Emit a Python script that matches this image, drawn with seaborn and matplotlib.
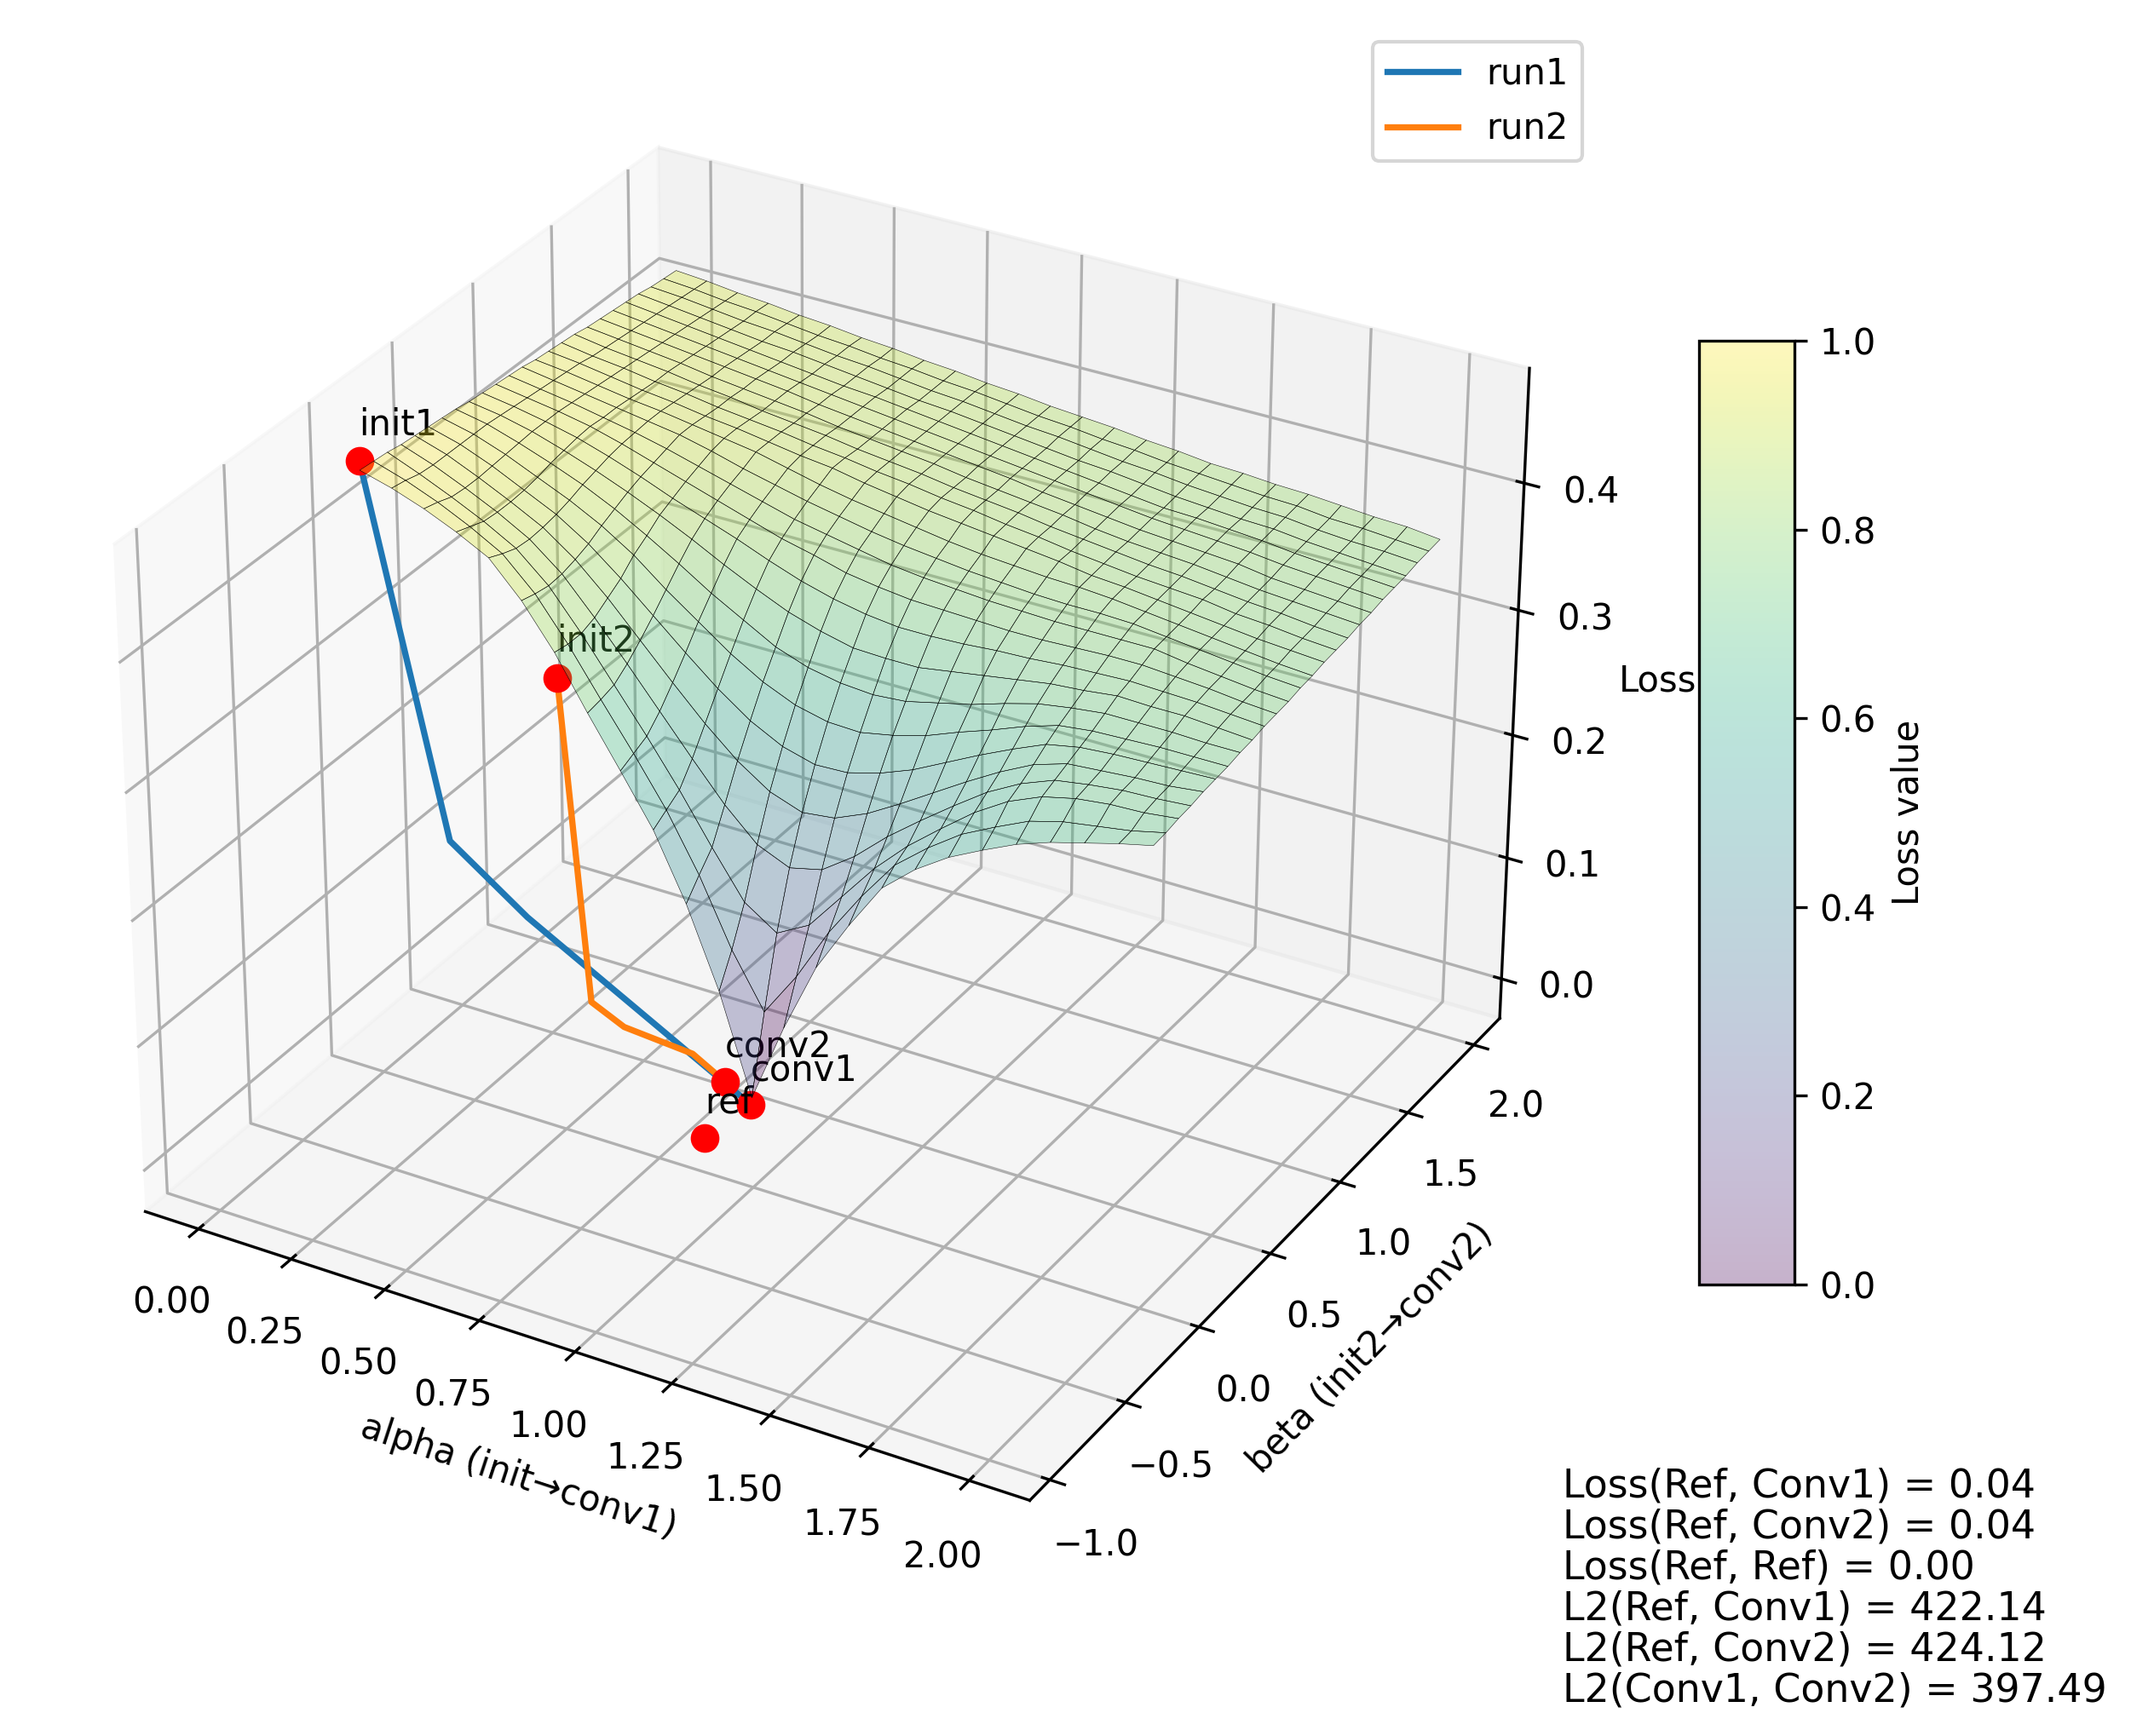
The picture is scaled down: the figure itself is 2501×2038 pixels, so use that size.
import numpy as np
import matplotlib
matplotlib.use("Agg")
import matplotlib.pyplot as plt
from matplotlib.cm import ScalarMappable
import seaborn as sns

alpha_grid = np.linspace(-0.015, 2.01, 25)
beta_grid = np.linspace(0.0, 2.0, 25)

loss_rows = [
[.447,.440,.431,.420,.407,.381,.348,.308,.270,.231,.180,.118,.040,.104,.160,.201,.238,.260,.277,.290,.302,.311,.318,.325,.331],
[.446,.438,.428,.416,.402,.378,.346,.310,.275,.238,.194,.142,.100,.136,.179,.215,.247,.268,.286,.299,.311,.318,.322,.326,.332],
[.445,.435,.424,.412,.398,.376,.346,.313,.280,.245,.207,.171,.154,.168,.198,.228,.253,.274,.294,.310,.321,.327,.330,.331,.334],
[.443,.434,.423,.411,.397,.377,.350,.321,.291,.261,.232,.208,.197,.203,.221,.244,.264,.283,.301,.315,.325,.329,.332,.333,.335],
[.442,.434,.423,.411,.398,.380,.357,.331,.305,.280,.258,.241,.232,.235,.246,.261,.277,.293,.308,.321,.329,.331,.333,.334,.337],
[.441,.434,.424,.412,.400,.384,.364,.342,.320,.299,.281,.268,.261,.262,.269,.279,.292,.305,.317,.328,.333,.335,.336,.337,.338],
[.440,.434,.425,.414,.403,.390,.374,.354,.336,.318,.303,.292,.286,.285,.290,.297,.307,.316,.326,.334,.337,.338,.339,.339,.339],
[.439,.434,.426,.417,.407,.395,.381,.366,.350,.336,.322,.313,.308,.306,.308,.314,.320,.328,.335,.339,.342,.342,.342,.341,.341],
[.437,.433,.427,.419,.410,.400,.389,.377,.364,.352,.341,.333,.327,.326,.326,.330,.334,.338,.342,.344,.347,.346,.346,.344,.342],
[.436,.432,.427,.421,.413,.404,.394,.385,.376,.366,.357,.350,.345,.342,.342,.343,.345,.346,.348,.349,.350,.349,.348,.346,.344],
[.435,.431,.427,.422,.415,.407,.399,.391,.383,.375,.369,.362,.358,.355,.354,.353,.352,.352,.353,.354,.354,.352,.350,.347,.345],
[.434,.430,.426,.421,.416,.410,.403,.396,.389,.382,.377,.372,.367,.364,.362,.360,.359,.358,.358,.358,.358,.354,.351,.348,.346],
[.433,.429,.425,.421,.417,.413,.407,.400,.394,.388,.383,.378,.374,.371,.368,.366,.364,.363,.363,.362,.359,.356,.353,.350,.348],
[.431,.428,.424,.420,.417,.413,.409,.405,.399,.393,.388,.384,.380,.376,.373,.371,.369,.368,.366,.363,.360,.357,.354,.351,.349],
[.430,.427,.423,.419,.416,.412,.409,.405,.401,.398,.393,.389,.385,.382,.379,.376,.373,.369,.367,.364,.361,.358,.355,.353,.351],
[.429,.425,.422,.418,.415,.411,.408,.405,.401,.398,.394,.391,.387,.384,.380,.377,.373,.370,.367,.365,.363,.359,.357,.354,.352],
[.428,.424,.421,.418,.414,.411,.407,.404,.401,.397,.394,.391,.387,.384,.381,.377,.374,.371,.368,.366,.363,.360,.358,.355,.353],
[.426,.423,.420,.417,.413,.410,.407,.404,.400,.397,.394,.391,.387,.384,.381,.378,.374,.371,.369,.367,.364,.361,.359,.357,.355],
[.425,.422,.419,.416,.413,.410,.407,.403,.400,.397,.394,.391,.388,.385,.381,.378,.375,.372,.370,.368,.366,.362,.360,.358,.356],
[.424,.421,.418,.415,.412,.409,.406,.403,.400,.397,.394,.391,.388,.385,.382,.379,.376,.373,.371,.369,.367,.364,.362,.360,.358],
[.423,.420,.417,.414,.411,.408,.405,.402,.400,.397,.394,.391,.388,.385,.382,.379,.376,.373,.372,.370,.368,.365,.363,.361,.359],
[.422,.419,.416,.413,.410,.408,.405,.402,.399,.396,.394,.391,.388,.385,.382,.380,.377,.374,.372,.370,.369,.366,.364,.362,.360],
[.420,.418,.415,.412,.410,.407,.404,.402,.399,.396,.394,.391,.388,.386,.383,.380,.378,.375,.373,.371,.370,.367,.365,.364,.362],
[.419,.417,.414,.412,.409,.406,.404,.401,.399,.396,.394,.391,.388,.386,.383,.381,.378,.376,.374,.372,.371,.368,.367,.365,.363],
[.418,.416,.413,.411,.408,.406,.403,.401,.398,.396,.393,.391,.388,.386,.384,.381,.379,.376,.375,.373,.372,.370,.368,.367,.364],
]

run1_alpha = [-0.015, 0.2, 0.405, 0.995]
run1_beta = [0.0, 0.0, 0.0, 0.0]
run1_loss = [0.454, 0.174, 0.131, 0.034]

run2_alpha = [0.80, 0.805, 0.83, 0.875, 0.895]
run2_beta = [-0.7, -0.54, -0.40, -0.08, 0.08]
run2_loss = [0.425, 0.159, 0.126, 0.073, 0.034]

point_names = ["init1", "init2", "conv1", "conv2", "ref"]
point_alpha = [-0.015, 0.80, 0.995, 0.895, 0.885]
point_beta = [0.0, -0.7, 0.0, 0.08, -0.03]
point_loss = [0.454, 0.425, 0.034, 0.034, 0.0]

summary_lines = [
    "Loss(Ref, Conv1) = 0.04",
    "Loss(Ref, Conv2) = 0.04",
    "Loss(Ref, Ref) = 0.00",
    "L2(Ref, Conv1) = 422.14",
    "L2(Ref, Conv2) = 424.12",
    "L2(Conv1, Conv2) = 397.49",
]
alpha_ticks = [0.0, 0.25, 0.5, 0.75, 1.0, 1.25, 1.5, 1.75, 2.0]
beta_ticks = [-1.0, -0.5, 0.0, 0.5, 1.0, 1.5, 2.0]
loss_ticks = [0.0, 0.1, 0.2, 0.3, 0.4]

W, H = 2501, 2038
fig = plt.figure(figsize=(W / 300, H / 300), dpi=300)
S = 1848
cx, cy = 955, 954
ax = fig.add_axes([(cx - S / 2) / W, 1 - (cy + S / 2) / H, S / W, S / H], projection="3d")

palette = sns.color_palette("tab10")
cmap = sns.color_palette("viridis", as_cmap=True)

Z = np.array(loss_rows)
A, B = np.meshgrid(alpha_grid, beta_grid)
norm = plt.Normalize(Z.min(), Z.max())
face = cmap(norm(Z))
face[..., 3] = 0.3
surf = ax.plot_surface(A, B, Z, facecolors=face, rstride=1, cstride=1, linewidth=0.12, shade=False)
surf.set_edgecolor((0, 0, 0, 1))
ax.plot(run1_alpha, run1_beta, run1_loss, color=palette[0], lw=1.75, label="run1")
ax.plot(run2_alpha, run2_beta, run2_loss, color=palette[1], lw=1.75, label="run2")
ax.scatter(point_alpha, point_beta, point_loss, color="red", s=50, depthshade=False)
for n, a, b, l in zip(point_names, point_alpha, point_beta, point_loss):
    ax.text(a, b, l + 0.02, n, fontsize=10)

ax.set_xlim(-0.145, 2.15)
ax.set_ylim(-1.13, 2.2)
ax.set_zlim(-0.033, 0.489)
ax.set_xticks(alpha_ticks)
ax.set_yticks(beta_ticks)
ax.set_zticks(loss_ticks)
ax.set_xticklabels([f"{v:.2f}" for v in alpha_ticks])
ax.set_yticklabels([f"{v:.1f}".replace("-", "\u2212") for v in beta_ticks])
ax.set_zticklabels([f"{v:.1f}" for v in loss_ticks])
ax.set_xlabel("alpha (init\u2192conv1)")
ax.set_ylabel("beta (init2\u2192conv2)")
ax.set_zlabel("Loss")

ax.legend(loc="upper left", bbox_to_anchor=(1611 / W, 1 - 49 / H),
          bbox_transform=fig.transFigure, borderaxespad=0, labelspacing=0.55)

cax = fig.add_axes([1994 / W, 1 - 1508 / H, 112 / W, 1108 / H])
sm = ScalarMappable(cmap=cmap)
cb = fig.colorbar(sm, cax=cax)
cb.solids.set_alpha(0.3)
cb.set_label("Loss value")

fig.text(1834 / W, 1 - 2008 / H, "\n".join(summary_lines), fontsize=11, linespacing=1.09,
         va="bottom", ha="left")
fig.savefig("out.png", dpi=300)
